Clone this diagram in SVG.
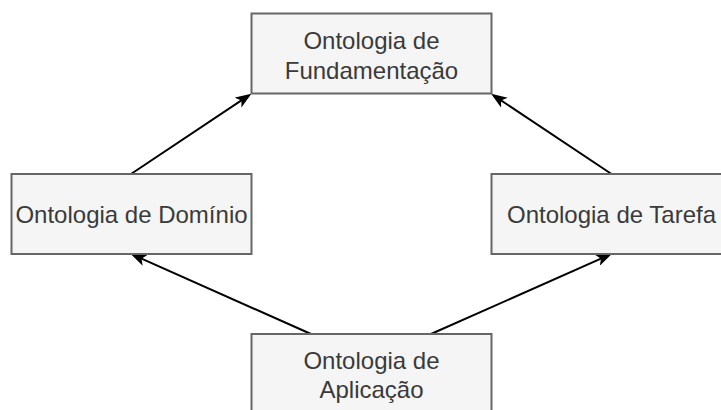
<svg xmlns="http://www.w3.org/2000/svg" width="721" height="410" viewBox="0 0 721 410">
  <style>
    .box { fill: #f5f5f5; stroke: #666666; stroke-width: 2; }
    .lbl { font-family: "Liberation Sans", Arial, sans-serif; font-size: 24px; fill: #3a3a3a; text-anchor: middle; }
    .edge { fill: none; stroke: #000000; stroke-width: 2; }
  </style>
  <defs>
    <marker id="arrow" viewBox="0 0 16 12" refX="12.5" refY="6" markerWidth="16" markerHeight="12" markerUnits="userSpaceOnUse" orient="auto">
      <path d="M0,0 L16,6 L0,12 L4,6 Z" fill="#000000"/>
    </marker>
  </defs>
  <rect width="721" height="410" fill="#ffffff"/>
  <g id="connectors">
    <line class="edge" x1="131" y1="174" x2="248.5" y2="95.7" marker-end="url(#arrow)"/>
    <line class="edge" x1="611.5" y1="174" x2="494" y2="95.7" marker-end="url(#arrow)"/>
    <line class="edge" x1="311" y1="334" x2="133.7" y2="255.2" marker-end="url(#arrow)"/>
    <line class="edge" x1="431" y1="334" x2="608.8" y2="255.2" marker-end="url(#arrow)"/>
  </g>
  <g id="fundamentacao">
    <rect class="box" x="251.5" y="13.5" width="240" height="80"/>
    <text class="lbl" x="371.5" y="48.5">Ontologia de</text>
    <text class="lbl" x="371.5" y="78.5">Fundamentação</text>
  </g>
  <g id="dominio">
    <rect class="box" x="11.5" y="174" width="240" height="80"/>
    <text class="lbl" x="131.5" y="222.5">Ontologia de Domínio</text>
  </g>
  <g id="tarefa">
    <rect class="box" x="491.5" y="174" width="240" height="80"/>
    <text class="lbl" x="611.5" y="222.5">Ontologia de Tarefa</text>
  </g>
  <g id="aplicacao">
    <rect class="box" x="251.5" y="334" width="240" height="80"/>
    <text class="lbl" x="371.5" y="368.5">Ontologia de</text>
    <text class="lbl" x="371.5" y="398">Aplicação</text>
  </g>
</svg>
